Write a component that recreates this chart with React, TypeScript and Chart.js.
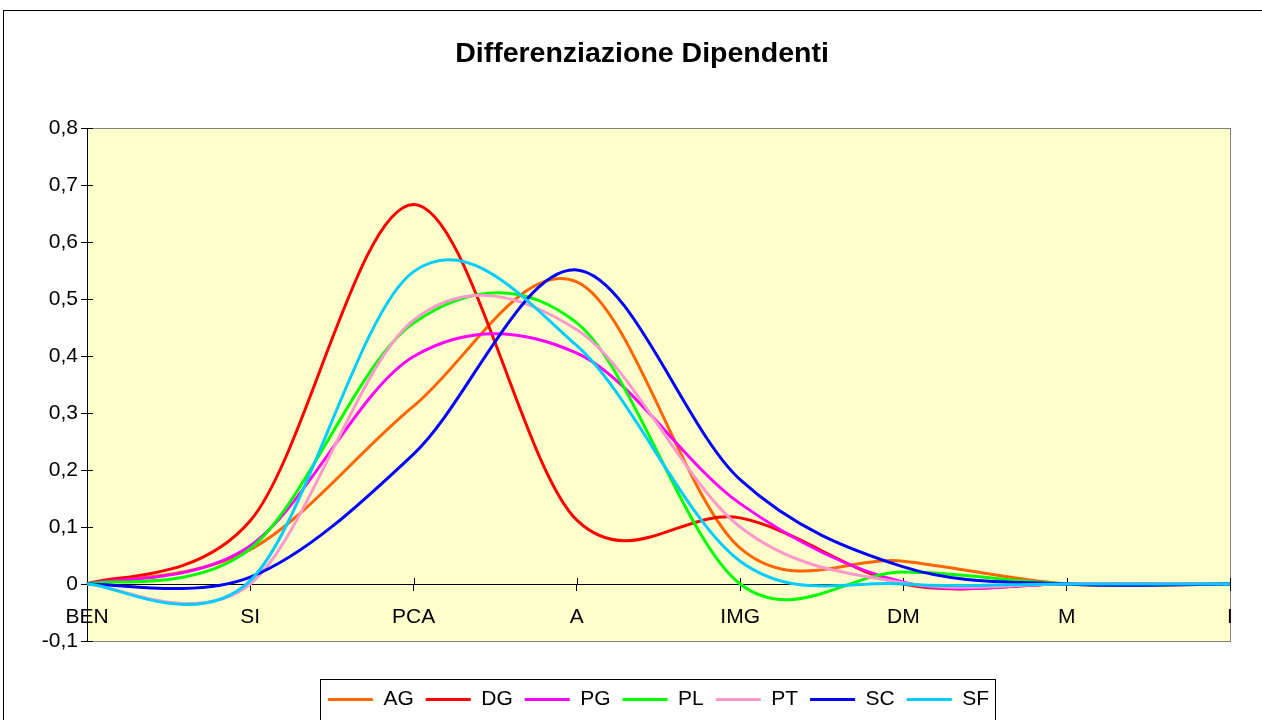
import React, { useEffect, useRef } from 'react';
import { Chart, registerables } from 'chart.js';

Chart.register(...registerables);

const titleText = 'Differenziazione Dipendenti';
const categories = ['BEN', 'SI', 'PCA', 'A', 'IMG', 'DM', 'M', 'I'];
const seriesNames = ['AG', 'DG', 'PG', 'PL', 'PT', 'SC', 'SF'];

const agValues = [0, 0.060, 0.312, 0.530, 0.063, 0.040, 0, 0];
const dgValues = [0, 0.111, 0.666, 0.112, 0.116, 0.0, 0, 0];
const pgValues = [0, 0.067, 0.399, 0.405, 0.141, 0.003, 0, 0];
const plValues = [0, 0.062, 0.458, 0.458, 0.0, 0.021, 0, 0];
const ptValues = [0, 0.0, 0.463, 0.446, 0.100, 0.002, 0, 0];
const scValues = [0, 0.012, 0.228, 0.551, 0.183, 0.030, 0, 0];
const sfValues = [0, 0.006, 0.548, 0.418, 0.040, 0.0, 0, 0];

const seriesValues = [agValues, dgValues, pgValues, plValues, ptValues, scValues, sfValues];
const seriesColors = ['#FF6600', '#FF0000', '#FF00FF', '#00FF00', '#FF99CC', '#0000FF', '#00CCFF'];

const yMin = -0.1;
const yMax = 0.8;
const yStep = 0.1;

const FONT = '"Liberation Sans", Arial, Helvetica, sans-serif';

// Excel-like smoothing: Catmull-Rom style bezier control points
const smoothPlugin = {
  id: 'excelSmooth',
  beforeDatasetDraw(chart: any, args: any) {
    const meta = args.meta;
    const pts = meta.data;
    const n = pts.length;
    for (let i = 0; i < n; i++) {
      const p = pts[i];
      const prev = pts[Math.max(0, i - 1)];
      const next = pts[Math.min(n - 1, i + 1)];
      const dx = (next.x - prev.x) / 6;
      const dy = (next.y - prev.y) / 6;
      p.cp1x = p.x - dx;
      p.cp1y = p.y - dy;
      p.cp2x = p.x + dx;
      p.cp2y = p.y + dy;
    }
    if (meta.dataset) {
      meta.dataset._pointsUpdated = true;
      meta.dataset._path = undefined;
    }
  },
};

const framePlugin = {
  id: 'frame',
  beforeDraw(chart: any) {
    const { ctx, chartArea: a, width, height } = chart;
    ctx.save();
    ctx.fillStyle = '#ffffff';
    ctx.fillRect(0, 0, width, height);
    ctx.strokeStyle = '#000000';
    ctx.lineWidth = 1;
    ctx.strokeRect(3.5, 10.5, width + 20, height + 20);
    ctx.fillStyle = '#FFFFCC';
    ctx.fillRect(a.left, a.top, a.right - a.left, a.bottom - a.top);
    ctx.strokeStyle = '#808080';
    ctx.lineWidth = 1;
    ctx.strokeRect(Math.round(a.left) + 0.5, Math.round(a.top) + 0.5, Math.round(a.right - a.left), Math.round(a.bottom - a.top));
    ctx.restore();
  },
  beforeDatasetsDraw(chart: any) {
    const { ctx, chartArea: a } = chart;
    const xs = chart.scales.x;
    const ys = chart.scales.y;
    const y0 = Math.round(ys.getPixelForValue(0));
    ctx.save();
    ctx.strokeStyle = '#000000';
    ctx.lineWidth = 1;
    ctx.beginPath();
    for (let i = 0; i < xs.ticks.length; i++) {
      const px = Math.round(xs.getPixelForTick(i)) + 0.5;
      ctx.moveTo(px, y0 - 6);
      ctx.lineTo(px, y0);
    }
    for (let i = 0; i < ys.ticks.length; i++) {
      const py = Math.round(ys.getPixelForTick(i)) + 0.5;
      ctx.moveTo(Math.round(a.left), py);
      ctx.lineTo(Math.round(a.left) + 6, py);
    }
    ctx.stroke();
    ctx.restore();
  },
  afterDraw(chart: any) {
    const legend = chart.legend;
    if (!legend || !legend.legendHitBoxes || !legend.legendHitBoxes.length) return;
    const hb = legend.legendHitBoxes;
    const left = Math.min(...hb.map((h: any) => h.left)) - 8;
    const right = Math.max(...hb.map((h: any) => h.left + h.width)) + 6;
    const cy = hb[0].top + hb[0].height / 2;
    const top = cy - 21;
    const bottom = 719;
    const { ctx } = chart;
    ctx.save();
    ctx.strokeStyle = '#000000';
    ctx.lineWidth = 1;
    ctx.strokeRect(Math.round(left) + 0.5, Math.round(top) + 0.5, Math.round(right - left), Math.round(bottom - top));
    ctx.restore();
  },
};

export default function App() {
  const canvasRef = useRef<HTMLCanvasElement | null>(null);

  useEffect(() => {
    const canvas = canvasRef.current;
    if (!canvas) return;
    const datasets = seriesNames.map((name, i) => ({
      label: name,
      data: seriesValues[i],
      borderColor: seriesColors[i],
      backgroundColor: seriesColors[i],
      borderWidth: 3,
      pointRadius: 0,
      pointHoverRadius: 0,
      tension: 0.4,
      fill: false,
      order: seriesNames.length - i,
      yAxisID: 'y',
    }));

    const chart = new Chart(canvas, {
      type: 'line',
      data: { labels: categories, datasets },
      plugins: [smoothPlugin, framePlugin],
      options: {
        responsive: false,
        animation: false,
        events: [],
        layout: { padding: { left: 22, right: 0, top: 0, bottom: 0 } },
        plugins: {
          tooltip: { enabled: false },
          title: {
            display: true,
            text: titleText,
            color: '#000000',
            font: { family: FONT, size: 28.5, weight: 'bold' },
            padding: { top: 37, bottom: 56.8 },
          },
          legend: {
            display: true,
            position: 'bottom',
            fullSize: false,
            align: 'center',
            title: { display: true, text: '', font: { size: 10 }, padding: { top: 0, bottom: 24 } },
            labels: {
              usePointStyle: true,
              pointStyle: 'line',
              pointStyleWidth: 45,
              padding: 12,
              color: '#000000',
              font: { family: FONT, size: 21 },
              sort: (a: any, b: any) => a.datasetIndex - b.datasetIndex,
            },
          },
        },
        scales: {
          x: {
            type: 'category',
            position: { y: 0 },
            offset: false,
            ticks: {
              autoSkip: false,
              maxRotation: 0,
              color: '#000000',
              font: { family: FONT, size: 21 },
              padding: 15,
            },
            grid: { drawOnChartArea: false, drawTicks: true, tickLength: 6, color: '#000000', offset: false },
            border: { color: '#000000', width: 1 },
          },
          y: {
            position: 'left',
            min: yMin,
            max: yMax,
            afterFit: (s: any) => {
              s.width = 65;
            },
            ticks: {
              stepSize: yStep,
              color: '#000000',
              font: { family: FONT, size: 21 },
              padding: 3,
              callback: (v: any) => {
                const r = Math.round(Number(v) * 10) / 10;
                if (Math.abs(r) < 1e-9) return '0';
                return r.toFixed(1).replace('.', ',');
              },
            },
            grid: { drawOnChartArea: false, drawTicks: true, tickLength: 6, color: '#000000' },
            border: { color: '#000000', width: 1 },
          },
          yRightSpace: {
            position: 'right',
            display: true,
            min: 0,
            max: 1,
            afterFit: (s: any) => {
              s.width = 32;
            },
            ticks: { display: false },
            grid: { display: false },
            border: { display: false },
          },
        },
      } as any,
    });
    return () => chart.destroy();
  }, []);

  return (
    <div style={{ position: 'absolute', left: 0, top: 0, width: 1262, height: 720, background: '#fff' }}>
      <canvas ref={canvasRef} width={1262} height={720} style={{ width: 1262, height: 720, display: 'block' }} />
    </div>
  );
}
